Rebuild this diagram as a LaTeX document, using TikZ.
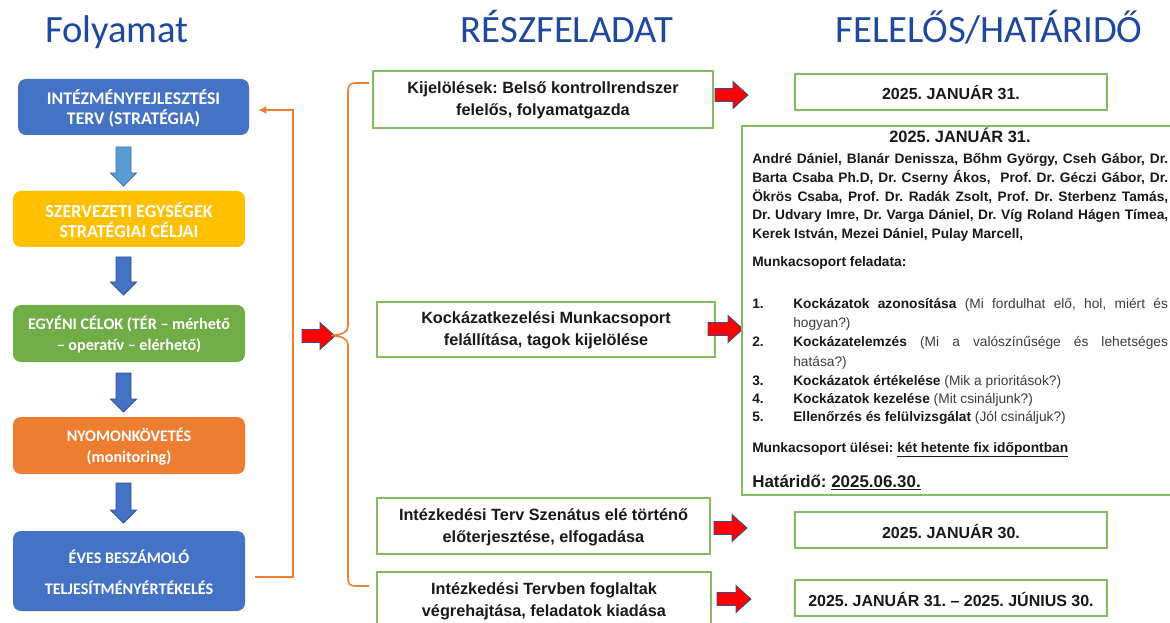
\documentclass[tikz,border=0pt]{standalone}
\usepackage{fontspec}
\setmainfont{Carlito}
\newfontfamily\bodyfont{Liberation Sans}
\frenchspacing
\usetikzlibrary{calc,fit,arrows.meta}
\definecolor{titleblue}{RGB}{31,73,158}
\definecolor{boxblue}{RGB}{68,114,196}
\definecolor{boxyellow}{RGB}{255,192,0}
\definecolor{boxgreen}{RGB}{112,173,71}
\definecolor{boxorange}{RGB}{237,125,49}
\definecolor{arrlight}{RGB}{91,155,213}
\definecolor{arrlightline}{RGB}{65,113,156}
\definecolor{arrline}{RGB}{47,82,143}
\definecolor{greenline}{RGB}{130,190,95}
\definecolor{txt}{RGB}{25,25,25}
\definecolor{txtreg}{RGB}{60,60,60}
\definecolor{fborange}{RGB}{237,125,49}
\newcommand{\redarr}[3]{\filldraw[redarrow] (#1,#3-6.5) -- (#2-15,#3-6.5) -- (#2-15,#3-13.5) -- (#2,#3) -- (#2-15,#3+13.5) -- (#2-15,#3+6.5) -- (#1,#3+6.5) -- cycle;}
\newcommand{\downarr}[5]{\filldraw[fill=#4, draw=#5, line width=0.6pt] (#1-7.5,#2) -- (#1+7.5,#2) -- (#1+7.5,#3-13) -- (#1+13,#3-13) -- (#1,#3) -- (#1-13,#3-13) -- (#1-7.5,#3-13) -- cycle;}
\newcommand{\reg}[1]{{\mdseries\color{txtreg}#1}}
\tikzset{
  titletext/.style={anchor=base, text=titleblue, font=\fontsize{29}{35}\selectfont\frenchspacing},
  leftbox/.style={rounded corners=6pt, inner sep=0pt},
  lefttext/.style={inner sep=0pt, text=white, align=center,
    font=\fontsize{13.3}{15}\selectfont\bfseries\frenchspacing},
  lefttextsm/.style={inner sep=0pt, text=white, align=center,
    font=\fontsize{12.1}{15.5}\selectfont\bfseries\frenchspacing},
  greenbox/.style={draw=greenline, line width=1.1pt, fill=white, inner sep=0pt},
  tasktext/.style={inner sep=0pt, align=center, text=txt,
    font=\bodyfont\fontsize{12.2}{16.5}\selectfont\bfseries\frenchspacing},
  datetext/.style={inner sep=0pt, align=center, text=txt,
    font=\bodyfont\fontsize{12}{14}\selectfont\bfseries\frenchspacing},
  redarrow/.style={fill=red, draw=arrline, line width=0.6pt},
  fbline/.style={draw=fborange, line width=1.5pt},
  line/.style={anchor=base west, inner sep=0pt, text=txt, font=\bodyfont\fontsize{10.3}{12}\selectfont\frenchspacing},
}
\begin{document}
\begin{tikzpicture}[x=0.75pt,y=-0.75pt]
\useasboundingbox (0,0) rectangle (1170,623);
\fill[white] (0,0) rectangle (1170,623);
\clip (0,0) rectangle (1170,623);

% titles
\node[titletext] (t1) at (117,43) {Folyamat};
\node[titletext] (t2) at (567,43) {RÉSZFELADAT};
\node[titletext] (t3) at (989,43) {FELELŐS/HATÁRIDŐ};

% left column
\node[leftbox, fill=boxblue, fit={(18,79)(249,135)}] (b1) {};
\node[leftbox, fill=boxyellow, fit={(13,191)(245,247)}] (b2) {};
\node[leftbox, fill=boxgreen, fit={(13,305)(245,362)}] (b3) {};
\node[leftbox, fill=boxorange, fit={(13,417)(245,474)}] (b4) {};
\node[leftbox, fill=boxblue, fit={(13,531)(245,611)}] (b5) {};
\node[lefttext] (b1t) at ($(b1.center)+(0,1)$) {INTÉZMÉNYFEJLESZTÉSI\\TERV (STRATÉGIA)};
\node[lefttext, font=\fontsize{13.6}{15}\selectfont\bfseries\frenchspacing] (b2t) at ($(b2.center)+(0,1)$) {SZERVEZETI EGYSÉGEK\\STRATÉGIAI CÉLJAI};
\node[lefttextsm] (b3t) at ($(b3.center)+(0,1)$) {EGYÉNI CÉLOK (TÉR – mérhető\\– operatív – elérhető)};
\node[lefttextsm] (b4t) at ($(b4.center)+(0,1)$) {NYOMONKÖVETÉS\\(monitoring)};
\node[lefttextsm] (b5t) at ($(b5.center)+(0,1)$) {ÉVES BESZÁMOLÓ\\[8pt]TELJESÍTMÉNYÉRTÉKELÉS};

\downarr{123.5}{147}{186}{arrlight}{arrlightline}
\downarr{123.5}{257}{295}{boxblue}{arrline}
\downarr{123.5}{373}{412}{boxblue}{arrline}
\downarr{123.5}{483}{523}{boxblue}{arrline}

% feedback line
\draw[fbline, -{Latex[length=6pt,width=6pt]}] ($(b5.east)+(10,6)$) -| ($(b1.east)+(44,3)$) -- ($(b1.east)+(9,3)$);

% red arrow into brace
\redarr{302}{335}{336}

% brace
\draw[fbline, line width=1.2pt] (369,83) -- (356,83) .. controls (350,83) and (348,85) .. (348,92) -- (348,326)
  .. controls (348,332) and (342,335) .. (331,335.5) .. controls (342,336) and (348,339) .. (348,345)
  -- (348,578) .. controls (348,584) and (350,586) .. (356,586) -- (369,586);

% middle column
\node[greenbox, fit={(373,71)(713,128)}] (m1) {};
\node[greenbox, fit={(377,302)(715,357)}] (m2) {};
\node[greenbox, fit={(377,498)(710,554)}] (m3) {};
\node[greenbox, fit={(377,572)(711,628)}] (m4) {};
\node[tasktext] (m1t) at ($(m1.center)+(0,1)$) {Kijelölések: Belső kontrollrendszer\\felelős, folyamatgazda};
\node[tasktext] (m2t) at ($(m2.center)+(0,1)$) {Kockázatkezelési Munkacsoport\\felállítása, tagok kijelölése};
\node[tasktext] (m3t) at ($(m3.center)+(0,1)$) {Intézkedési Terv Szenátus elé történő\\előterjesztése, elfogadása};
\node[tasktext] (m4t) at ($(m4.center)+(0,1)$) {Intézkedési Tervben foglaltak\\végrehajtása, feladatok kiadása};

\redarr{715}{748}{95}
\redarr{708}{743}{329}
\redarr{714}{747}{528}
\redarr{717}{751}{599}

% right column
\node[greenbox, fit={(795,74)(1107,110)}] (r1) {};
\node[greenbox, fit={(742,126)(1190,495)}] (r2) {};
\node[greenbox, fit={(795,512)(1107,548)}] (r3) {};
\node[greenbox, fit={(795,580)(1107,616)}] (r4) {};
\node[datetext] (r1t) at ($(r1.center)+(0,1)$) {2025. JANUÁR 31.};
\node[datetext] (r3t) at ($(r3.center)+(0,1)$) {2025. JANUÁR 30.};
\node[datetext] (r4t) at ($(r4.center)+(0,1)$) {2025. JANUÁR 31. – 2025. JÚNIUS 30.};

% big box content
\node[line, anchor=base, font=\bodyfont\fontsize{12.3}{14}\selectfont\bfseries\frenchspacing] (k0) at (960,143) {2025. JANUÁR 31.};
\node[line] (k1) at (752,164) {\bfseries\makebox[312pt][s]{André Dániel, Blanár Denissza, Bőhm György, Cseh Gábor, Dr.}};
\node[line] (k2) at (752,183) {\bfseries\makebox[312pt][s]{Barta Csaba Ph.D, Dr. Cserny Ákos, \ Prof. Dr. Géczi Gábor, Dr.}};
\node[line] (k3) at (752,202) {\bfseries\makebox[312pt][s]{Ökrös Csaba, Prof. Dr. Radák Zsolt, Prof. Dr. Sterbenz Tamás,}};
\node[line] (k4) at (752,220) {\bfseries\makebox[312pt][s]{Dr. Udvary Imre, Dr. Varga Dániel, Dr. Víg Roland Hágen Tímea,}};
\node[line] (k5) at (752,239) {\bfseries Kerek István, Mezei Dániel, Pulay Marcell,};
\node[line] (k6) at (752,267) {\bfseries Munkacsoport feladata:};

\node[line] (n1) at (752,309) {\bfseries 1.};
\node[line] (l1) at (793,309) {\makebox[281pt][s]{\bfseries Kockázatok azonosítása \reg{(Mi fordulhat elő, hol, miért és}}};
\node[line] (l1b) at (793,328) {\reg{hogyan?)}};
\node[line] (n2) at (752,347) {\bfseries 2.};
\node[line] (l2) at (793,347) {\makebox[281pt][s]{\bfseries Kockázatelemzés \reg{(Mi a valószínűsége és lehetséges}}};
\node[line] (l2b) at (793,366) {\reg{hatása?)}};
\node[line] (n3) at (752,385) {\bfseries 3.};
\node[line] (l3) at (793,385) {\textbf{Kockázatok értékelése} \reg{(Mik a prioritások?)}};
\node[line] (n4) at (752,403) {\bfseries 4.};
\node[line] (l4) at (793,403) {\textbf{Kockázatok kezelése} \reg{(Mit csináljunk?)}};
\node[line] (n5) at (752,421) {\bfseries 5.};
\node[line] (l5) at (793,421) {\textbf{Ellenőrzés és felülvizsgálat} \reg{(Jól csináljuk?)}};

\node[line] (k7) at (752,452) {\bfseries Munkacsoport ülései: \underline{két hetente fix időpontban}};
\node[line, font=\bodyfont\fontsize{12.7}{15}\selectfont\bfseries\frenchspacing] (k8) at (752,487) {Határidő: \underline{2025.06.30.}};
\end{tikzpicture}
\end{document}
